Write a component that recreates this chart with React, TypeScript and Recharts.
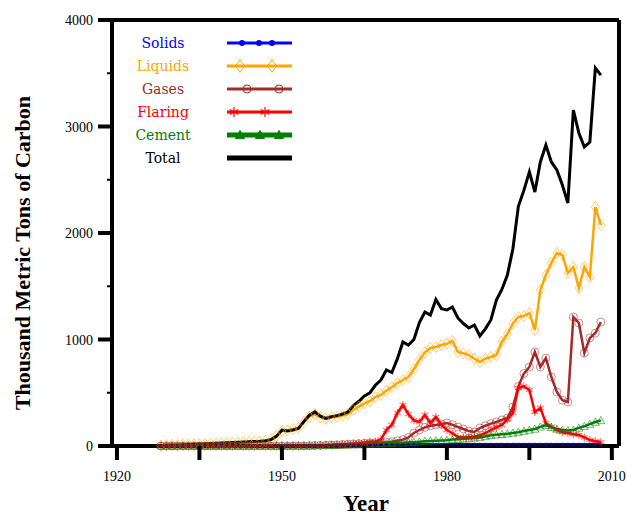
import React from "react";
import { LineChart, Line, XAxis, YAxis, ReferenceLine } from "recharts";

// annual values, thousand metric tons of carbon
const years = [
  1928, 1929, 1930, 1931, 1932, 1933, 1934, 1935, 1936, 1937, 1938, 1939, 1940, 1941, 1942, 1943, 1944, 1945, 1946, 1947,
  1948, 1949, 1950, 1951, 1952, 1953, 1954, 1955, 1956, 1957, 1958, 1959, 1960, 1961, 1962, 1963, 1964, 1965, 1966, 1967,
  1968, 1969, 1970, 1971, 1972, 1973, 1974, 1975, 1976, 1977, 1978, 1979, 1980, 1981, 1982, 1983, 1984, 1985, 1986, 1987,
  1988, 1989, 1990, 1991, 1992, 1993, 1994, 1995, 1996, 1997, 1998, 1999, 2000, 2001, 2002, 2003, 2004, 2005, 2006, 2007,
  2008,
];

const total = [
  5, 8, 10, 10, 12, 14, 16, 18, 20, 24, 26, 28, 30, 32, 35, 38, 40, 42, 45, 50,
  60, 90, 150, 140, 150, 165, 230, 290, 320, 280, 260, 275, 285, 300, 320, 380, 420, 470, 500, 570,
  620, 714, 690, 820, 977, 948, 1000, 1160, 1258, 1230, 1375, 1290, 1277, 1305, 1202, 1150, 1108, 1136, 1033, 1100,
  1183, 1371, 1470, 1606, 1850, 2250, 2400, 2573, 2385, 2667, 2826, 2667, 2592, 2450, 2282, 3155, 2939, 2808, 2854, 3549,
  3483,
];

const liquids = [
  5, 8, 10, 10, 12, 13, 15, 17, 19, 22, 24, 26, 28, 30, 32, 35, 37, 40, 42, 48,
  58, 95, 140, 145, 160, 170, 225, 275, 300, 270, 255, 270, 275, 285, 300, 340, 370, 400, 420, 460,
  480, 520, 554, 590, 620, 648, 720, 808, 880, 920, 930, 948, 960, 986, 883, 870, 854, 820, 789, 820,
  836, 854, 977, 1050, 1150, 1211, 1220, 1249, 1089, 1465, 1606, 1720, 1812, 1793, 1624, 1681, 1484, 1681, 1587, 2244,
  2075,
];

const gases = [
  0, 0, 0, 0, 0, 0, 0, 0, 0, 0, 0, 0, 0, 0, 0, 0, 0, 0, 0, 0,
  0, 0, 0, 0, 0, 0, 0, 3, 5, 6, 8, 10, 12, 15, 18, 20, 22, 25, 28, 30,
  32, 35, 40, 50, 60, 80, 122, 150, 175, 190, 197, 205, 216, 200, 178, 160, 140, 131, 169, 190,
  210, 225, 245, 263, 366, 560, 680, 742, 883, 742, 826, 648, 507, 430, 413, 1211, 1155, 873, 1014, 1061,
  1164,
];

const flaring = [
  0, 0, 0, 0, 0, 0, 0, 0, 0, 0, 0, 0, 0, 0, 0, 0, 0, 0, 0, 0,
  0, 0, 0, 0, 0, 0, 0, 0, 0, 0, 5, 8, 10, 12, 15, 20, 25, 30, 40, 40,
  60, 150, 200, 310, 385, 300, 240, 225, 291, 216, 272, 200, 150, 120, 85, 80, 82, 85, 100, 122,
  150, 175, 197, 250, 310, 545, 560, 526, 319, 357, 216, 180, 150, 130, 122, 110, 103, 80, 56, 45,
  38,
];

const cement = [
  2, 2, 2, 2, 2, 2, 2, 2, 2, 2, 2, 2, 2, 2, 2, 2, 2, 2, 2, 2,
  2, 2, 2, 3, 3, 3, 3, 3, 5, 8, 8, 8, 8, 10, 11, 12, 13, 15, 18, 20,
  21, 23, 25, 28, 30, 33, 36, 40, 45, 48, 50, 52, 55, 60, 63, 67, 70, 75, 80, 90,
  100, 105, 110, 115, 122, 130, 140, 150, 160, 180, 195, 175, 160, 150, 145, 150, 170, 185, 205, 225,
  240,
];

const solids = [
  2, 2, 2, 2, 2, 2, 2, 2, 2, 2, 2, 2, 2, 2, 2, 2, 2, 2, 2, 2,
  2, 2, 2, 3, 3, 3, 4, 4, 4, 5, 5, 5, 6, 6, 7, 8, 9, 10, 10, 11,
  11, 12, 12, 12, 12, 13, 13, 13, 13, 13, 13, 14, 14, 14, 14, 14, 14, 14, 14, 14,
  14, 14, 15, 15, 15, 15, 15, 15, 15, 15, 15, 15, 15, 15, 15, 15, 15, 15, 15, 15,
  15,
];

const xTicks = [1920, 1935, 1950, 1965, 1980, 1995, 2010];
const xLabels = [1920, 1950, 1980, 2010];
const yTicks = [0, 500, 1000, 1500, 2000, 2500, 3000, 3500, 4000];
const yLabels = [0, 1000, 2000, 3000, 4000];

const data = years.map((year, i) => ({
  year,
  total: total[i],
  liquids: liquids[i],
  gases: gases[i],
  flaring: flaring[i],
  cement: cement[i],
  solids: solids[i],
}));

const W = 627;
const H = 519;
const LEFT = 112;
const BOTTOM = 446;
const serif = "'Liberation Serif', 'Times New Roman', serif";

const XTick = ({ x, payload }: any) => (
  <g>
    <line x1={x} x2={x} y1={BOTTOM} y2={BOTTOM + 14} stroke="#000" strokeWidth={4} />
    {xLabels.includes(payload.value) && (
      <text x={x} y={BOTTOM + 35} textAnchor="middle" fontFamily={serif} fontSize={14} fill="#000">
        {payload.value}
      </text>
    )}
  </g>
);

const YTick = ({ y, payload }: any) => {
  const major = yLabels.includes(payload.value);
  return (
    <g>
      {major ? (
        <line x1={LEFT - 14} x2={LEFT} y1={y} y2={y} stroke="#000" strokeWidth={4} />
      ) : (
        <line x1={LEFT - 5} x2={LEFT} y1={y} y2={y} stroke="#000" strokeWidth={2} />
      )}
      {major && (
        <text x={LEFT - 19} y={y + 5} textAnchor="end" fontFamily={serif} fontSize={14} fill="#000">
          {payload.value}
        </text>
      )}
    </g>
  );
};

const Diamond = ({ cx, cy, color, s = 4 }: any) => (
  <path d={`M${cx},${cy - s * 1.4} L${cx + s},${cy} L${cx},${cy + s * 1.4} L${cx - s},${cy} Z`} fill="none" stroke={color} strokeWidth={1} />
);
const Ring = ({ cx, cy, color, s = 4 }: any) => (
  <circle cx={cx} cy={cy} r={s} fill="none" stroke={color} strokeWidth={1} />
);
const Star = ({ cx, cy, color, s = 4 }: any) => (
  <g stroke={color} strokeWidth={1.2}>
    <line x1={cx} y1={cy - s} x2={cx} y2={cy + s} />
    <line x1={cx - s * 0.87} y1={cy - s / 2} x2={cx + s * 0.87} y2={cy + s / 2} />
    <line x1={cx - s * 0.87} y1={cy + s / 2} x2={cx + s * 0.87} y2={cy - s / 2} />
  </g>
);
const Tri = ({ cx, cy, color, s = 4, filled = false }: any) => (
  <path d={`M${cx},${cy - s} L${cx + s},${cy + s * 0.8} L${cx - s},${cy + s * 0.8} Z`} fill={filled ? color : "none"} stroke={color} strokeWidth={1} />
);
const Dot = ({ cx, cy, color, s = 2 }: any) => <circle cx={cx} cy={cy} r={s} fill={color} />;

const dotOf = (Shape: any, color: string) => (p: any) => (
  <g key={`d${p.index}`} opacity={0.55}>
    <Shape cx={p.cx} cy={p.cy} color={color} />
  </g>
);

const legendRows = [
  { name: "Solids", color: "#0000ff", width: 3, marks: [242, 259, 272], Shape: Dot, s: 3 },
  { name: "Liquids", color: "#ffa500", width: 3, marks: [240, 272], Shape: Diamond, s: 4.5 },
  { name: "Gases", color: "#a52a2a", width: 3, marks: [247, 279], Shape: Ring, s: 4 },
  { name: "Flaring", color: "#ff0000", width: 3, marks: [234, 265], Shape: Star, s: 5 },
  { name: "Cement", color: "#008000", width: 5, marks: [240, 260, 279], Shape: Tri, s: 4.5 },
  { name: "Total", color: "#000000", width: 5, marks: [], Shape: Dot, s: 0 },
];

export default function App() {
  return (
    <div style={{ position: "absolute", left: 0, top: 0, width: W, height: H, background: "#fff" }}>
      <LineChart width={W} height={H} data={data} margin={{ top: 20, right: 8, left: 0, bottom: 0 }}>
        <XAxis
          dataKey="year"
          type="number"
          domain={[1919.1, 2011.3]}
          ticks={xTicks}
          allowDataOverflow
          height={73}
          axisLine={{ stroke: "#000", strokeWidth: 4 }}
          tickLine={false}
          tick={<XTick />}
          interval={0}
        />
        <YAxis
          type="number"
          domain={[0, 4000]}
          ticks={yTicks}
          width={LEFT}
          axisLine={{ stroke: "#000", strokeWidth: 4 }}
          tickLine={false}
          tick={<YTick />}
          interval={0}
        />
        <ReferenceLine y={4000} stroke="#000" strokeWidth={4} />
        <ReferenceLine x={2011.3} stroke="#000" strokeWidth={4} />
        <Line dataKey="solids" stroke="#0000ff" strokeWidth={3} dot={dotOf(Dot, "#0000ff")} isAnimationActive={false} />
        <Line dataKey="liquids" stroke="#ffa500" strokeWidth={2.5} dot={dotOf(Diamond, "#ffa500")} isAnimationActive={false} />
        <Line dataKey="gases" stroke="#a52a2a" strokeWidth={2.5} dot={dotOf(Ring, "#a52a2a")} isAnimationActive={false} />
        <Line dataKey="flaring" stroke="#ff0000" strokeWidth={2.5} dot={dotOf(Star, "#ff0000")} isAnimationActive={false} />
        <Line dataKey="cement" stroke="#008000" strokeWidth={2.5} dot={dotOf(Tri, "#008000")} isAnimationActive={false} />
        <Line dataKey="total" stroke="#000000" strokeWidth={3} dot={false} isAnimationActive={false} />
      </LineChart>
      <svg width={W} height={H} style={{ position: "absolute", left: 0, top: 0, pointerEvents: "none" }}>
        {legendRows.map((r, i) => {
          const cy = 43 + i * 23;
          return (
            <g key={r.name}>
              <text x={163} y={cy + 5} textAnchor="middle" fontFamily="'DejaVu Serif', serif" fontSize={14} fill={r.color}>
                {r.name}
              </text>
              <line x1={227} x2={292} y1={cy} y2={cy} stroke={r.color} strokeWidth={r.width} />
              {r.marks.map((mx) => (
                <r.Shape key={mx} cx={mx} cy={cy} color={r.color} s={r.s} filled />
              ))}
            </g>
          );
        })}
        <text
          transform="translate(30,253) rotate(-90)"
          textAnchor="middle"
          fontFamily={serif}
          fontWeight="bold"
          fontSize={22}
          fill="#000"
        >
          Thousand Metric Tons of Carbon
        </text>
        <text x={366} y={511} textAnchor="middle" fontFamily={serif} fontWeight="bold" fontSize={23} fill="#000">
          Year
        </text>
      </svg>
    </div>
  );
}
